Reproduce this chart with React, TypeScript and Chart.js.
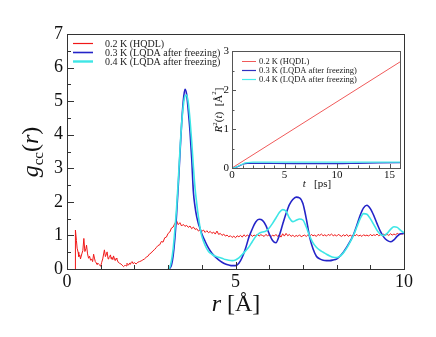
import React, { useEffect, useRef } from 'react';
import { Chart, registerables } from 'chart.js';

Chart.register(...registerables);

const SERIF = '"Liberation Serif", "DejaVu Serif", serif';

// ---------- main panel: g_cc(r) ----------
const seriesLabels = ['0.2 K (HQDL)', '0.3 K (LQDA after freezing)', '0.4 K (LQDA after freezing)'];
const mainColors = ['#f01818', '#2424c8', '#3ee6e6'];
const insetColors = ['#f05a5a', '#2f2fc0', '#46ecec'];

// 0.2 K, short-range spiky part (r, g)
const redSpikeR = [0.25, 0.25, 0.28, 0.3, 0.33, 0.35, 0.38, 0.4, 0.44, 0.47, 0.5, 0.53, 0.56, 0.58, 0.61, 0.64, 0.67, 0.7, 0.73, 0.76, 0.79, 0.82, 0.84, 0.87, 0.89, 0.93, 0.97, 1.0, 1.03, 1.06, 1.11, 1.14, 1.17, 1.19, 1.22, 1.24, 1.27, 1.29, 1.31, 1.33, 1.36, 1.38, 1.41, 1.43, 1.46, 1.48, 1.52, 1.56, 1.6, 1.63, 1.66, 1.68, 1.71, 1.73, 1.76, 1.78, 1.81, 1.83, 1.86, 1.88, 1.91, 1.93, 1.96];
const redSpikeG = [0, 1.16, 0.85, 0.62, 0.5, 0.37, 0.42, 0.3, 0.45, 0.55, 0.91, 0.52, 0.6, 0.71, 0.45, 0.32, 0.38, 0.26, 0.3, 0.22, 0.44, 0.3, 0.22, 0.18, 0.14, 0.16, 0.12, 0.08, 0.2, 0.3, 0.57, 0.37, 0.45, 0.51, 0.3, 0.33, 0.38, 0.42, 0.3, 0.35, 0.28, 0.39, 0.3, 0.25, 0.32, 0.29, 0.2, 0.17, 0.15, 0.12, 0.09, 0.07, 0.1, 0.12, 0.09, 0.17, 0.13, 0.12, 0.18, 0.14, 0.2, 0.22, 0.16];

// 0.2 K, from r = 2.00 to 10.00 every 0.05
const redTailStart = 2.0;
const redTailStep = 0.05;
const redTailG = [
  0.19, 0.15, 0.2, 0.22, 0.24, 0.27, 0.3, 0.35, 0.38, 0.45,
  0.48, 0.54, 0.58, 0.64, 0.7, 0.72, 0.82, 0.8, 0.93, 0.95,
  1.06, 1.1, 1.22, 1.25, 1.36, 1.44, 1.32, 1.38, 1.28, 1.33,
  1.27, 1.3, 1.24, 1.28, 1.2, 1.25, 1.18, 1.2, 1.13, 1.17,
  1.12, 1.16, 1.09, 1.14, 1.08, 1.12, 1.06, 1.1, 1.04, 1.13,
  1.03, 1.06, 1.0, 1.04, 0.98, 1.01, 0.96, 0.99, 0.94, 0.98,
  0.93, 0.99, 0.96, 1.0, 0.95, 1.02, 0.97, 1.01, 0.98, 1.03,
  0.97, 1.01, 0.99, 1.04, 0.98, 1.02, 1.0, 0.97, 1.03, 0.99,
  1.02, 0.96, 1.01, 0.98, 1.03, 0.97, 1.02, 0.95, 1.05, 0.98,
  1.06, 0.99, 1.03, 0.97, 1.01, 0.96, 1.0, 0.97, 1.02, 0.96,
  0.99, 1.01, 0.97, 1.02, 0.98, 1.03, 0.99, 1.01, 0.97, 1.03,
  1.0, 1.04, 0.99, 1.02, 0.98, 1.03, 1.0, 1.04, 0.99, 1.02,
  0.98, 1.03, 1.0, 0.97, 1.02, 0.98, 1.03, 0.97, 1.01, 0.98,
  1.02, 0.99, 1.03, 0.98, 1.01, 0.97, 1.02, 0.99, 1.01, 0.98,
  1.03, 0.99, 1.02, 1.0, 1.04, 0.99, 1.02, 1.0, 1.04, 1.01,
  1.03, 1.0, 1.05, 1.01, 1.04, 1.02, 1.06, 1.03, 1.05, 1.04,
  1.06,
];

// 0.3 K and 0.4 K share this r grid
const solidR = [
  3.0, 3.05, 3.1, 3.15, 3.2, 3.25, 3.3, 3.35, 3.4, 3.45, 3.5, 3.55, 3.6, 3.65, 3.7, 3.75, 3.8, 3.85, 3.9, 3.95,
  4.0, 4.1, 4.2, 4.3, 4.4, 4.5, 4.6, 4.7, 4.8, 4.9,
  5.0, 5.1, 5.2, 5.3, 5.4, 5.5, 5.6, 5.7, 5.8, 5.9,
  6.0, 6.1, 6.2, 6.3, 6.4, 6.5, 6.6, 6.7, 6.8, 6.9,
  7.0, 7.1, 7.2, 7.3, 7.4, 7.5, 7.6, 7.7, 7.8, 7.9,
  8.0, 8.1, 8.2, 8.3, 8.4, 8.5, 8.6, 8.7, 8.8, 8.9,
  9.0, 9.1, 9.2, 9.3, 9.4, 9.5, 9.6, 9.7, 9.8, 9.9,
  10.0,
];
const blueG = [
  0, 0.02, 0.12, 0.4, 0.9, 1.6, 2.45, 3.4, 4.3, 5.0, 5.35, 5.2, 4.7, 4.1, 3.3, 2.3, 1.85, 1.55, 1.35, 1.2,
  1.05, 0.82, 0.62, 0.47, 0.36, 0.27, 0.2, 0.15, 0.12, 0.1,
  0.1, 0.17, 0.35, 0.62, 0.95, 1.2, 1.4, 1.48, 1.45, 1.3,
  1.05, 0.85, 0.78, 1.0, 1.33, 1.65, 1.92, 2.07, 2.14, 2.12,
  1.95, 1.5, 0.95, 0.6, 0.38, 0.3, 0.26, 0.25, 0.25, 0.27,
  0.3, 0.38, 0.5, 0.65, 0.82, 1.02, 1.3, 1.6, 1.82, 1.9,
  1.8, 1.6, 1.35, 1.12, 0.95, 0.85, 0.81, 0.87, 0.98, 1.05,
  1.06,
];
const cyanG = [
  0, 0.05, 0.25, 0.6, 1.15, 1.8, 2.6, 3.5, 4.3, 4.85, 5.15, 5.18, 4.95, 4.45, 3.8, 3.05, 2.4, 1.95, 1.55, 1.22,
  0.98, 0.7, 0.52, 0.44, 0.38, 0.35, 0.32, 0.28, 0.26, 0.25,
  0.27, 0.33, 0.43, 0.54, 0.66, 0.82, 0.97, 1.06, 1.1, 1.13,
  1.22, 1.36, 1.52, 1.68, 1.77, 1.72, 1.52, 1.41, 1.45, 1.49,
  1.46, 1.25, 0.98, 0.78, 0.65, 0.56, 0.5, 0.44, 0.39, 0.35,
  0.34, 0.38, 0.48, 0.62, 0.8, 1.0, 1.25, 1.5, 1.65, 1.63,
  1.5, 1.33, 1.15, 1.03, 1.0, 1.06, 1.18, 1.26, 1.24, 1.15,
  1.08,
];

const mainXTicks = [0, 5, 10];
const mainXMinor = [1, 2, 3, 4, 6, 7, 8, 9];
const mainYTicks = [0, 1, 2, 3, 4, 5, 6, 7];
const mainYMinor = [0.5, 1.5, 2.5, 3.5, 4.5, 5.5, 6.5];

// ---------- inset: R^2(t) ----------
const insetRedT = [0, 2, 4, 6, 8, 10, 12, 14, 16];
const insetRedR2 = [0, 0.34, 0.68, 1.02, 1.36, 1.7, 2.04, 2.38, 2.72];
const insetSolidT = [0, 0.25, 0.5, 0.75, 1, 1.25, 1.5, 2, 3, 4, 6, 8, 10, 12, 14, 16];
const insetBlueR2 = [0, 0.01, 0.03, 0.06, 0.09, 0.11, 0.12, 0.12, 0.12, 0.115, 0.11, 0.11, 0.11, 0.12, 0.13, 0.14];
const insetCyanR2 = [0, 0.01, 0.04, 0.07, 0.1, 0.13, 0.14, 0.15, 0.15, 0.15, 0.15, 0.15, 0.15, 0.15, 0.15, 0.15];

const insetXTicks = [0, 5, 10, 15];
const insetXMinor = [1, 2, 3, 4, 6, 7, 8, 9, 11, 12, 13, 14, 16];
const insetYTicks = [0, 1, 2, 3];
const insetYMinor = [0.5, 1.5, 2.5];

type Seg = { text: string; font: string; dy?: number };

function drawRich(ctx: CanvasRenderingContext2D, segs: Seg[], x: number, y: number, rot: number) {
  ctx.save();
  ctx.translate(x, y);
  ctx.rotate(rot);
  ctx.fillStyle = '#111';
  ctx.textBaseline = 'alphabetic';
  ctx.textAlign = 'left';
  let total = 0;
  const widths = segs.map((s) => {
    ctx.font = s.font;
    const w = ctx.measureText(s.text).width;
    total += w;
    return w;
  });
  let cx = -total / 2;
  segs.forEach((s, i) => {
    ctx.font = s.font;
    ctx.fillText(s.text, cx, s.dy || 0);
    cx += widths[i];
  });
  ctx.restore();
}

type FrameCfg = {
  xMajor: number[]; xMinor: number[]; yMajor: number[]; yMinor: number[];
  majorLen: number; minorLen: number; frameColor: string;
  legendX0: number; legendX1: number; legendTextX: number; legendY: number[];
  legendFont: string; legendColors: string[]; legendWidths: number[];
  titles: (ctx: CanvasRenderingContext2D) => void;
};

function framePlugin(cfg: FrameCfg) {
  return {
    id: 'frame',
    afterDraw(chart: any) {
      const ctx: CanvasRenderingContext2D = chart.ctx;
      const { left, right, top, bottom } = chart.chartArea;
      const xs = chart.scales.x;
      const ys = chart.scales.y;
      ctx.save();
      ctx.strokeStyle = cfg.frameColor;
      ctx.lineWidth = 1;
      ctx.strokeRect(Math.round(left) + 0.5, Math.round(top) + 0.5, Math.round(right - left), Math.round(bottom - top));
      ctx.beginPath();
      const bx = (v: number, len: number) => {
        const p = Math.round(xs.getPixelForValue(v)) + 0.5;
        ctx.moveTo(p, bottom);
        ctx.lineTo(p, bottom - len);
      };
      const by = (v: number, len: number) => {
        const p = Math.round(ys.getPixelForValue(v)) + 0.5;
        ctx.moveTo(left, p);
        ctx.lineTo(left + len, p);
      };
      cfg.xMajor.forEach((v) => bx(v, cfg.majorLen));
      cfg.xMinor.forEach((v) => bx(v, cfg.minorLen));
      cfg.yMajor.forEach((v) => by(v, cfg.majorLen));
      cfg.yMinor.forEach((v) => by(v, cfg.minorLen));
      ctx.stroke();
      // legend
      cfg.legendY.forEach((ly, i) => {
        ctx.beginPath();
        ctx.strokeStyle = cfg.legendColors[i];
        ctx.lineWidth = cfg.legendWidths[i];
        ctx.moveTo(cfg.legendX0, ly);
        ctx.lineTo(cfg.legendX1, ly);
        ctx.stroke();
        ctx.fillStyle = '#222';
        ctx.font = cfg.legendFont;
        ctx.textBaseline = 'middle';
        ctx.textAlign = 'left';
        ctx.fillText(seriesLabels[i], cfg.legendTextX, ly + 0.5);
      });
      ctx.restore();
      cfg.titles(ctx);
    },
  };
}

function pts(xs: number[], ys: number[]) {
  return xs.map((x, i) => ({ x, y: ys[i] }));
}

function fixedTicks(vals: number[]) {
  return (scale: any) => {
    scale.ticks = vals.map((v) => ({ value: v }));
  };
}

export default function App() {
  const mainRef = useRef<HTMLCanvasElement>(null);
  const insetRef = useRef<HTMLCanvasElement>(null);

  useEffect(() => {
    document.body.style.margin = '0';
    const redPts = pts(redSpikeR, redSpikeG).concat(
      redTailG.map((g, i) => ({ x: +(redTailStart + i * redTailStep).toFixed(2), y: g }))
    );

    const mainChart = new Chart(mainRef.current!, {
      type: 'line',
      data: {
        datasets: [
          { label: seriesLabels[2], data: pts(solidR, cyanG), borderColor: mainColors[2], borderWidth: 1.6, pointRadius: 0, cubicInterpolationMode: 'monotone' },
          { label: seriesLabels[1], data: pts(solidR, blueG), borderColor: mainColors[1], borderWidth: 1.6, pointRadius: 0, cubicInterpolationMode: 'monotone' },
          { label: seriesLabels[0], data: redPts, borderColor: mainColors[0], borderWidth: 1, pointRadius: 0, tension: 0 },
        ],
      },
      options: {
        responsive: false,
        animation: false,
        events: [],
        layout: { padding: { top: 34, right: 32, left: 0, bottom: 0 } },
        plugins: { legend: { display: false }, tooltip: { enabled: false } },
        scales: {
          x: {
            type: 'linear', min: 0, max: 10,
            afterBuildTicks: fixedTicks(mainXTicks),
            afterFit: (s: any) => { s.height = 68; },
            grid: { display: false, drawTicks: false },
            border: { display: false },
            ticks: { padding: 2, color: '#111', font: { family: SERIF, size: 18 }, maxRotation: 0, autoSkip: false },
          },
          y: {
            type: 'linear', min: 0, max: 7,
            afterBuildTicks: fixedTicks(mainYTicks),
            afterFit: (s: any) => { s.width = 67; },
            grid: { display: false, drawTicks: false },
            border: { display: false },
            ticks: { padding: 4, color: '#111', font: { family: SERIF, size: 18 }, autoSkip: false },
          },
        },
      },
      plugins: [
        framePlugin({
          xMajor: mainXTicks, xMinor: mainXMinor, yMajor: mainYTicks, yMinor: mainYMinor,
          majorLen: 7, minorLen: 4, frameColor: '#333',
          legendX0: 73, legendX1: 93, legendTextX: 105, legendY: [43.5, 52.5, 61.5],
          legendFont: `10px ${SERIF}`, legendColors: mainColors, legendWidths: [1.2, 1.6, 2.4],
          titles: (ctx) => {
            drawRich(ctx, [
              { text: 'r', font: `italic 24px ${SERIF}` },
              { text: ' [Å]', font: `24px ${SERIF}` },
            ], 236, 311, 0);
            drawRich(ctx, [
              { text: 'g', font: `italic 24px ${SERIF}` },
              { text: 'cc', font: `15px ${SERIF}`, dy: 5 },
              { text: '(', font: `24px ${SERIF}` },
              { text: 'r', font: `italic 24px ${SERIF}` },
              { text: ')', font: `24px ${SERIF}` },
            ], 38, 152, -Math.PI / 2);
          },
        }),
      ],
    } as any);

    const insetChart = new Chart(insetRef.current!, {
      type: 'line',
      data: {
        datasets: [
          { label: seriesLabels[2], data: pts(insetSolidT, insetCyanR2), borderColor: insetColors[2], borderWidth: 1.2, pointRadius: 0, cubicInterpolationMode: 'monotone' },
          { label: seriesLabels[1], data: pts(insetSolidT, insetBlueR2), borderColor: insetColors[1], borderWidth: 1.2, pointRadius: 0, cubicInterpolationMode: 'monotone' },
          { label: seriesLabels[0], data: pts(insetRedT, insetRedR2), borderColor: insetColors[0], borderWidth: 1, pointRadius: 0, tension: 0 },
        ],
      },
      options: {
        responsive: false,
        animation: false,
        events: [],
        layout: { padding: { top: 51, right: 36, left: 0, bottom: 0 } },
        plugins: { legend: { display: false }, tooltip: { enabled: false } },
        scales: {
          x: {
            type: 'linear', min: 0, max: 16,
            afterBuildTicks: fixedTicks(insetXTicks),
            afterFit: (s: any) => { s.height = 337 - 168; },
            grid: { display: false, drawTicks: false },
            border: { display: false },
            ticks: { padding: 1, color: '#111', font: { family: SERIF, size: 11 }, maxRotation: 0, autoSkip: false },
          },
          y: {
            type: 'linear', min: 0, max: 3,
            afterBuildTicks: fixedTicks(insetYTicks),
            afterFit: (s: any) => { s.width = 232; },
            grid: { display: false, drawTicks: false },
            border: { display: false },
            ticks: { padding: 3, color: '#111', font: { family: SERIF, size: 11 }, autoSkip: false },
          },
        },
      },
      plugins: [
        framePlugin({
          xMajor: insetXTicks, xMinor: insetXMinor, yMajor: insetYTicks, yMinor: insetYMinor,
          majorLen: 4, minorLen: 2.5, frameColor: '#555',
          legendX0: 242, legendX1: 256, legendTextX: 259, legendY: [61.5, 70.5, 79.5],
          legendFont: `8.5px ${SERIF}`, legendColors: insetColors, legendWidths: [1, 1.2, 1.2],
          titles: (ctx) => {
            drawRich(ctx, [
              { text: 't', font: `italic 11px ${SERIF}` },
              { text: '   [ps]', font: `11px ${SERIF}` },
            ], 317, 187, 0);
            drawRich(ctx, [
              { text: 'R', font: `italic 11px ${SERIF}` },
              { text: '2', font: `7px ${SERIF}`, dy: -5 },
              { text: '(', font: `11px ${SERIF}` },
              { text: 't', font: `italic 11px ${SERIF}` },
              { text: ')  [Å', font: `11px ${SERIF}` },
              { text: '2', font: `7px ${SERIF}`, dy: -6 },
              { text: ']', font: `11px ${SERIF}` },
            ], 222, 110, -Math.PI / 2);
          },
        }),
      ],
    } as any);

    return () => {
      mainChart.destroy();
      insetChart.destroy();
    };
  }, []);

  return (
    <div style={{ position: 'absolute', left: 0, top: 0, width: 436, height: 337, background: '#fff' }}>
      <canvas ref={mainRef} width={436} height={337} style={{ position: 'absolute', left: 0, top: 0 }} />
      <canvas ref={insetRef} width={436} height={337} style={{ position: 'absolute', left: 0, top: 0, pointerEvents: 'none' }} />
    </div>
  );
}
